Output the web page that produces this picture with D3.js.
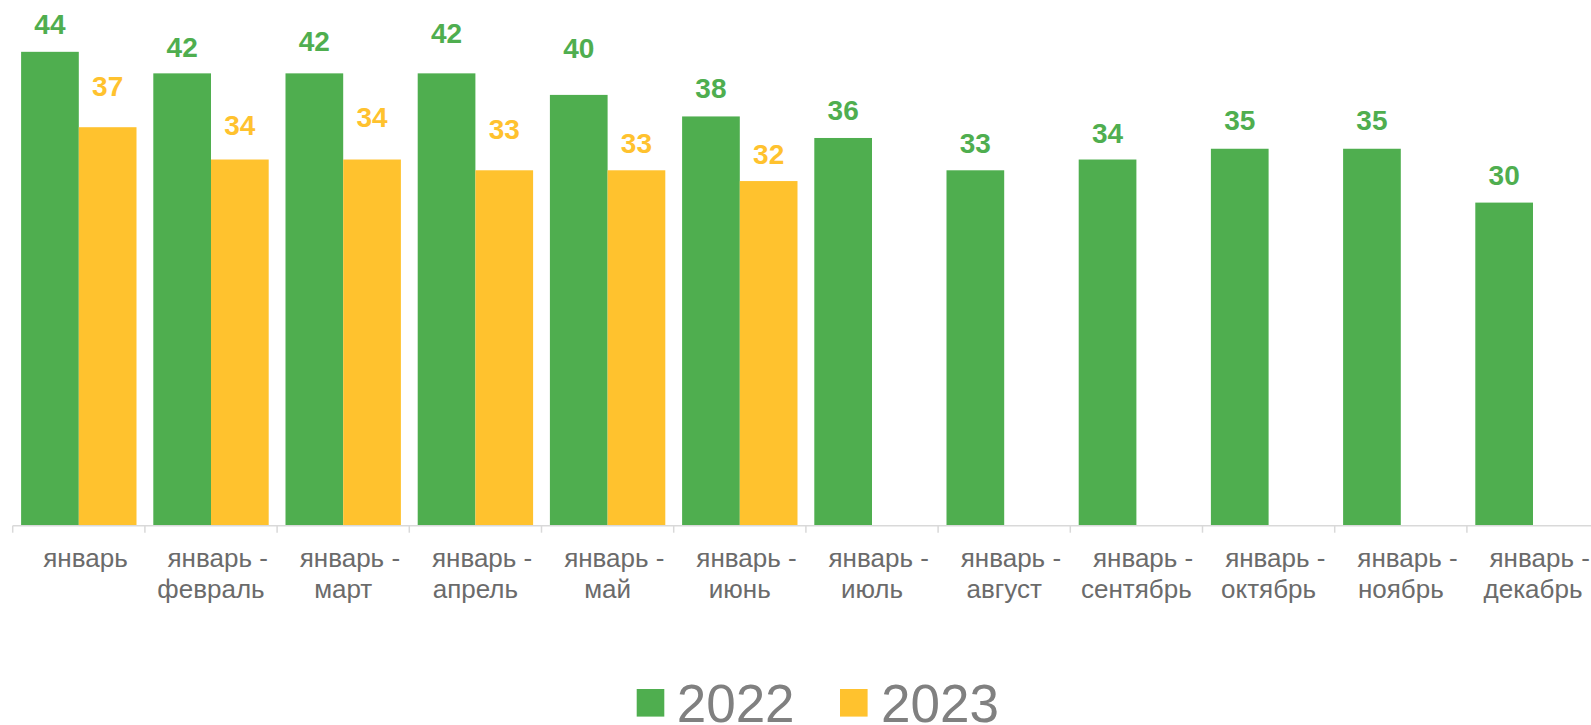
<!DOCTYPE html>
<html>
<head>
<meta charset="utf-8">
<script src="https://cdn.jsdelivr.net/npm/d3@7"></script>
<style>
  html, body { margin: 0; padding: 0; background: #ffffff; }
  svg { display: block; }
</style>
</head>
<body>
<svg id="chart" width="1591" height="725"></svg>
<script>
// ---- data ----
const categories = [
  "январь", "январь - февраль", "январь - март", "январь - апрель",
  "январь - май", "январь - июнь", "январь - июль", "январь - август",
  "январь - сентябрь", "январь - октябрь", "январь - ноябрь", "январь - декабрь"
];
const seriesNames = ["2022", "2023"];
const values2022 = [44, 42, 42, 42, 40, 38, 36, 33, 34, 35, 35, 30];
const values2023 = [37, 34, 34, 33, 33, 32, null, null, null, null, null, null];
// manual label nudges (pixels, upward) as in the reference
const labelNudge2022 = [0, -1.5, 4.5, 12.5, 19, 1, 0, 0, -0.5, 1, 1, 0];
const labelNudge2023 = [14, 7.5, 15, 13.5, 0, 0, 0, 0, 0, 0, 0, 0];

const colors = { "2022": "#4FAE4F", "2023": "#FFC22E" };

// ---- layout ----
const svg = d3.select("#chart");
const axisY = 525.7;
const left = 12.7;
const step = 132.2;

const x = d3.scaleBand()
  .domain(categories)
  .range([left, left + step * categories.length])
  .paddingInner(0).paddingOuter(0);

const xs = d3.scaleBand()
  .domain(seriesNames)
  .range([0, x.bandwidth()])
  .paddingInner(0).paddingOuter(0.1456);

const y = d3.scaleLinear()
  .domain([0, 48])
  .range([axisY, axisY - 48 * 10.77]);

const series = [
  { name: "2022", values: values2022, nudge: labelNudge2022 },
  { name: "2023", values: values2023, nudge: labelNudge2023 }
];

// bars
series.forEach(s => {
  const g = svg.append("g");
  const data = categories.map((c, i) => ({ c, v: s.values[i], n: s.nudge[i] }))
    .filter(d => d.v != null);
  g.selectAll("rect").data(data).join("rect")
    .attr("x", d => x(d.c) + xs(s.name))
    .attr("y", d => y(d.v))
    .attr("width", xs.bandwidth())
    .attr("height", d => y(0) - y(d.v))
    .attr("fill", colors[s.name]);
  g.selectAll("text").data(data).join("text")
    .attr("x", d => x(d.c) + xs(s.name) + xs.bandwidth() / 2)
    .attr("y", d => y(d.v) - 17.5 - d.n)
    .attr("text-anchor", "middle")
    .attr("font-family", "'Liberation Sans', Arial, sans-serif")
    .attr("font-weight", "bold")
    .attr("font-size", 28)
    .attr("fill", colors[s.name])
    .text(d => d.v);
});

// x axis
const axis = svg.append("g");
axis.append("line")
  .attr("x1", x.range()[0]).attr("x2", x.range()[1])
  .attr("y1", axisY).attr("y2", axisY)
  .attr("stroke", "#d9d9d9").attr("stroke-width", 1.5);
axis.selectAll("line.tick").data(categories).join("line")
  .attr("class", "tick")
  .attr("x1", d => x(d)).attr("x2", d => x(d))
  .attr("y1", axisY).attr("y2", axisY + 7)
  .attr("stroke", "#d9d9d9").attr("stroke-width", 1.5);

const catLabels = axis.selectAll("text.cat").data(categories).join("text")
  .attr("class", "cat")
  .attr("font-family", "'Liberation Sans', Arial, sans-serif")
  .attr("font-size", 26)
  .attr("fill", "#6b6b6b")
  .attr("text-anchor", "middle");
catLabels.each(function(d) {
  const parts = d.split(" - ");
  const t = d3.select(this);
  const cx = x(d) + x.bandwidth() / 2;
  t.append("tspan")
    .attr("x", cx + 6.7).attr("y", 567.3)
    .text(parts.length > 1 ? parts[0] + " -" : parts[0]);
  if (parts.length > 1) {
    t.append("tspan")
      .attr("x", cx).attr("y", 598.3)
      .text(parts[1]);
  }
});

// legend
const legend = svg.append("g");
const legendItems = [
  { name: seriesNames[0], sx: 636.7, tx: 676.7 },
  { name: seriesNames[1], sx: 840, tx: 881 }
];
legendItems.forEach(it => {
  legend.append("rect")
    .attr("x", it.sx).attr("y", 689)
    .attr("width", 27.6).attr("height", 27.6)
    .attr("fill", colors[it.name]);
  legend.append("text")
    .attr("x", it.tx).attr("y", 721.7)
    .attr("font-family", "'Liberation Sans', Arial, sans-serif")
    .attr("font-size", 53)
    .attr("fill", "#808080")
    .text(it.name);
});
</script>
</body>
</html>
